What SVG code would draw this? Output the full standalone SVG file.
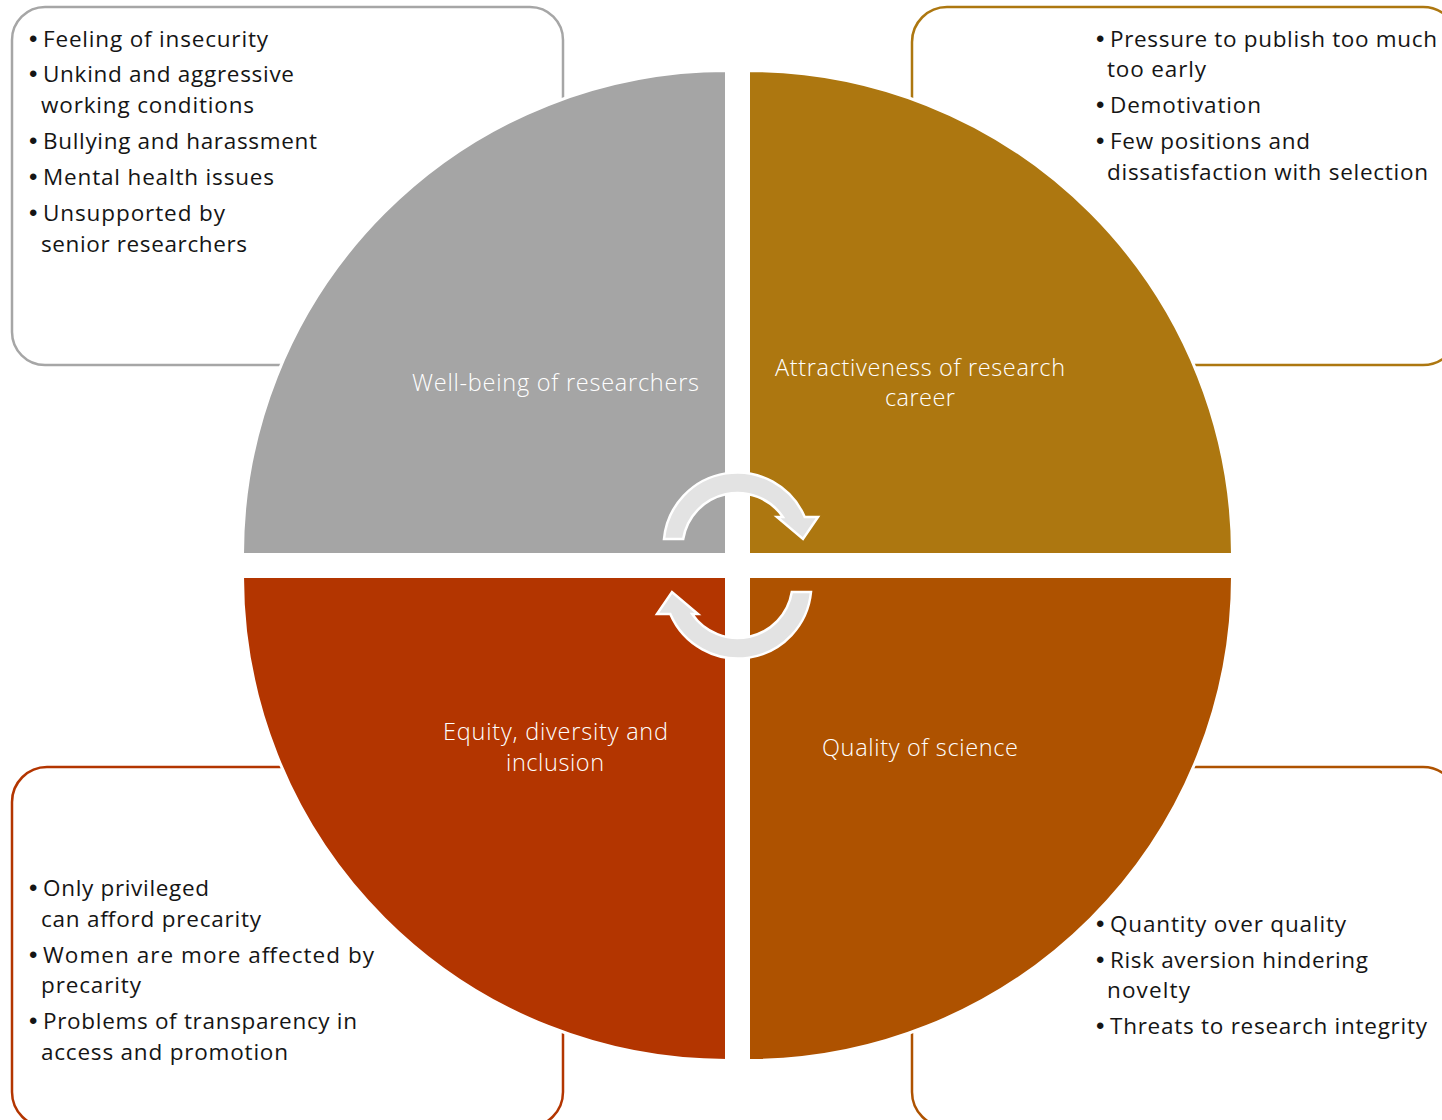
<svg xmlns="http://www.w3.org/2000/svg" width="1442" height="1120" viewBox="0 0 1442 1120">
<style>
.box{fill:#fff;stroke-width:2.5}
.q{stroke:#fff;stroke-width:3}
.t{font-family:"Open Sans","Noto Sans","Liberation Sans",sans-serif;font-size:22.5px;font-weight:400;fill:#151515}
.t .b{font-family:"Liberation Sans",sans-serif;font-size:24px}
.lbl{font-family:"Open Sans","Noto Sans","Liberation Sans",sans-serif;font-size:23.5px;font-weight:300;fill:#fff}
.arr{fill:#e3e3e3;stroke:#fff;stroke-width:2.5;stroke-linejoin:miter}
</style>
<rect width="1442" height="1120" fill="#fff"/>
<g id="box-tl"><rect class="box" x="12" y="7" width="551" height="358" rx="33" stroke="#a6a6a6"/></g>
<g id="box-tr"><rect class="box" x="912" y="7" width="546" height="358" rx="35" stroke="#ad7710"/></g>
<g id="box-bl"><rect class="box" x="12" y="767" width="551" height="360" rx="35" stroke="#b33500"/></g>
<g id="box-br"><rect class="box" x="912" y="767" width="546" height="360" rx="35" stroke="#ae5200"/></g>
<g id="q-tl"><path class="q" fill="#a5a5a5" d="M726.5 554.5 L242.5 554.5 A484 484 0 0 1 726.5 70.5 Z"/></g>
<g id="q-tr"><path class="q" fill="#ad7710" d="M748.5 554.5 L748.5 70.5 A484 484 0 0 1 1232.5 554.5 Z"/></g>
<g id="q-br"><path class="q" fill="#ae5200" d="M748.5 576.5 L1232.5 576.5 A484 484 0 0 1 748.5 1060.5 Z"/></g>
<g id="q-bl"><path class="q" fill="#b33500" d="M726.5 576.5 L726.5 1060.5 A484 484 0 0 1 242.5 576.5 Z"/></g>
<g id="connectors">
<path id="arrow-top" class="arr" d="M664 539 A73.5 73.5 0 0 1 804.7 517 L818 517 L803 539 L777 517 L782.9 517 A55 55 0 0 0 683.2 539 Z"/>
<path id="arrow-bottom" class="arr" transform="rotate(180 737.5 565.5)" d="M664 539 A73.5 73.5 0 0 1 804.7 517 L818 517 L803 539 L777 517 L782.9 517 A55 55 0 0 0 683.2 539 Z"/>
</g>
<g id="label-tl" class="lbl"><text x="412" y="391" textLength="287">Well-being of researchers</text></g>
<g id="label-tr" class="lbl"><text x="775" y="376" textLength="290">Attractiveness of research</text><text x="885" y="406" textLength="70">career</text></g>
<g id="label-bl" class="lbl"><text x="443" y="740" textLength="225">Equity, diversity and</text><text x="506" y="771" textLength="98">inclusion</text></g>
<g id="label-br" class="lbl"><text x="822" y="756" textLength="196">Quality of science</text></g>
<g id="text-tl" class="t">
<text class="b" x="29" y="47">•</text><text x="43" y="47" textLength="225">Feeling of insecurity</text>
<text class="b" x="29" y="82">•</text><text x="43" y="82" textLength="251">Unkind and aggressive</text>
<text x="41" y="113" textLength="213">working conditions</text>
<text class="b" x="29" y="149">•</text><text x="43" y="149" textLength="274">Bullying and harassment</text>
<text class="b" x="29" y="185">•</text><text x="43" y="185" textLength="231">Mental health issues</text>
<text class="b" x="29" y="221">•</text><text x="43" y="221" textLength="182">Unsupported by</text>
<text x="41" y="252" textLength="206">senior researchers</text>
</g>
<g id="text-tr" class="t">
<text class="b" x="1096" y="47">•</text><text x="1110" y="47" textLength="327">Pressure to publish too much</text>
<text x="1107" y="77" textLength="99">too early</text>
<text class="b" x="1096" y="113">•</text><text x="1110" y="113" textLength="151">Demotivation</text>
<text class="b" x="1096" y="149">•</text><text x="1110" y="149" textLength="200">Few positions and</text>
<text x="1107" y="180" textLength="321">dissatisfaction with selection</text>
</g>
<g id="text-bl" class="t">
<text class="b" x="29" y="896">•</text><text x="43" y="896" textLength="166">Only privileged</text>
<text x="41" y="927" textLength="220">can afford precarity</text>
<text class="b" x="29" y="963">•</text><text x="43" y="963" textLength="331">Women are more affected by</text>
<text x="41" y="993" textLength="100">precarity</text>
<text class="b" x="29" y="1029">•</text><text x="43" y="1029" textLength="314">Problems of transparency in</text>
<text x="41" y="1060" textLength="247">access and promotion</text>
</g>
<g id="text-br" class="t">
<text class="b" x="1096" y="932">•</text><text x="1110" y="932" textLength="236">Quantity over quality</text>
<text class="b" x="1096" y="968">•</text><text x="1110" y="968" textLength="258">Risk aversion hindering</text>
<text x="1107" y="998" textLength="83">novelty</text>
<text class="b" x="1096" y="1034">•</text><text x="1110" y="1034" textLength="317">Threats to research integrity</text>
</g>
</svg>
